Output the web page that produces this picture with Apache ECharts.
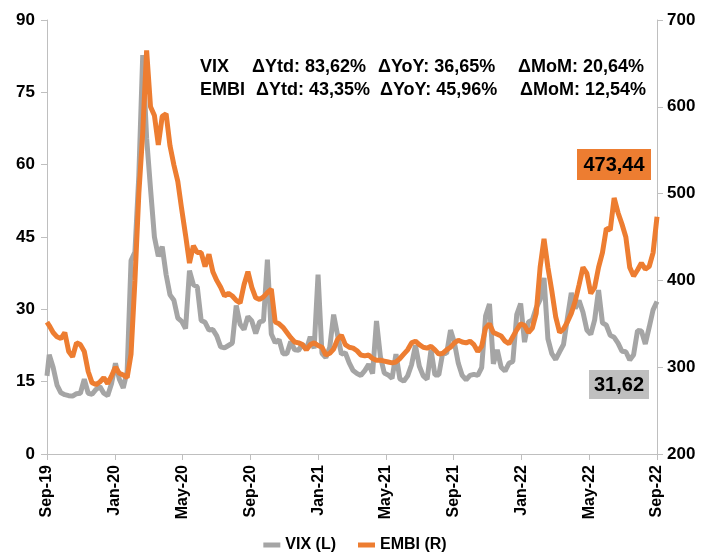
<!DOCTYPE html>
<html>
<head>
<meta charset="utf-8">
<script src="https://cdn.jsdelivr.net/npm/echarts@6/dist/echarts.min.js"></script>
<style>
html,body{margin:0;padding:0;background:#fff;}
#chart{width:710px;height:553px;}
</style>
</head>
<body>
<div id="chart"></div>
<script>
// x tick labels (every 4 months, Sep-19 .. Sep-22)
const xTickLabels = ['Sep-19','Jan-20','May-20','Sep-20','Jan-21','May-21','Sep-21','Jan-22','May-22','Sep-22'];
// weekly observations from 30-Sep-2019 to 30-Sep-2022
const totalDays = 1096;
const vixValues = [16.2,20.6,18.0,14.3,12.7,12.3,12.1,12.0,12.5,12.6,
15.5,12.6,12.4,13.4,14.0,12.6,12.1,14.6,18.8,15.5,
13.7,17.1,40.1,41.9,57.8,82.7,65.5,55.0,45.0,41.0,
43.0,37.2,33.0,31.9,28.2,27.5,26.0,38.0,35.1,34.7,
27.7,27.3,25.7,25.8,24.5,22.2,22.0,22.5,23.0,30.8,
26.9,25.8,28.5,27.6,25.0,27.4,27.6,40.3,24.9,23.1,
23.7,20.8,20.8,23.3,21.6,21.5,22.8,21.6,24.3,21.9,
37.2,20.9,20.0,22.1,28.9,24.7,20.7,21.0,18.9,17.3,
16.7,16.3,17.3,18.6,16.7,27.6,20.2,16.8,16.4,15.7,
20.7,15.6,15.1,16.2,18.5,22.5,18.2,16.2,15.5,21.6,
16.4,16.4,21.0,20.8,25.7,23.1,18.8,16.3,15.4,16.3,
16.5,16.3,17.9,28.6,31.1,18.7,21.6,18.0,17.2,18.8,
19.2,28.9,31.2,23.2,27.4,27.8,30.3,32.0,36.5,23.9,
20.8,19.6,21.2,22.7,28.2,33.4,30.2,31.8,29.4,25.7,
24.8,27.8,34.0,27.2,26.7,24.6,24.2,23.0,21.3,21.2,
19.5,20.6,25.6,25.5,22.8,26.3,29.9,31.62];
const embiValues = [352,348,340,335,333,340,318,312,328,326,
318,295,282,280,283,288,281,290,300,293,
291,288,315,400,500,570,665,600,590,556,
589,592,555,533,514,482,452,420,440,432,
432,416,430,410,400,392,382,385,382,377,
374,395,410,392,380,378,381,386,390,352,
350,346,340,334,329,328,326,320,326,328,
325,323,314,316,321,332,337,326,323,322,
319,314,313,314,310,308,308,307,306,305,
306,310,315,320,328,330,326,323,322,324,
320,315,316,320,323,328,331,329,328,330,
326,318,324,345,350,340,338,336,330,327,
335,343,350,348,340,345,362,415,448,415,
388,358,340,344,352,362,376,395,415,408,
385,392,415,432,460,458,495,478,465,450,
415,405,412,420,413,416,432,473.44];
const vixStats = ['VIX', 'ΔYtd: 83,62%', 'ΔYoY: 36,65%', 'ΔMoM: 20,64%'];
const embiStats = ['EMBI', 'ΔYtd: 43,35%', 'ΔYoY: 45,96%', 'ΔMoM: 12,54%'];
const lastVix = '31,62';
const lastEmbi = '473,44';

function monthPos(i){
  const day = i === 0 ? 0 : 4 + 7*(i-1);
  return day * 36 / totalDays;
}
const vixData = vixValues.map((v,i)=>[monthPos(i), v]);
const embiData = embiValues.map((v,i)=>[monthPos(i), v]);

const FONT = 'Liberation Sans, Arial, sans-serif';
const axisCol = '#BFBFBF';

const chart = echarts.init(document.getElementById('chart'), null, {renderer:'canvas'});

function statRow(arr, y, xs){
  return arr.map((t,k)=>({
    type:'text', left: xs[k], top: y,
    style:{text:t, font:'bold 18px '+FONT, fill:'#000'}
  }));
}

chart.setOption({
  animation:false,
  backgroundColor:'#fff',
  grid:{left:47, right:53, top:20, bottom:99},
  legend:{
    top:532, left:'center', itemGap:22, itemWidth:17, itemHeight:5,
    icon:'rect',
    textStyle:{fontFamily:FONT, fontWeight:'bold', fontSize:16, color:'#000'},
    data:['VIX (L)','EMBI (R)']
  },
  xAxis:{
    type:'value', min:0, max:36, interval:4,
    axisLine:{show:true, lineStyle:{color:axisCol, width:1}},
    axisTick:{show:true, length:6, lineStyle:{color:axisCol}},
    splitLine:{show:false},
    axisLabel:{
      rotate:90, margin:11,
      fontFamily:FONT, fontWeight:'bold', fontSize:16, color:'#000',
      formatter:(v)=> xTickLabels[Math.round(v/4)] || ''
    }
  },
  yAxis:[
    {type:'value', min:0, max:90, interval:15, position:'left',
     axisLine:{show:true, lineStyle:{color:axisCol}},
     axisTick:{show:true, length:6, lineStyle:{color:axisCol}},
     splitLine:{show:false},
     axisLabel:{margin:12, fontFamily:FONT, fontWeight:'bold', fontSize:17, color:'#000'}},
    {type:'value', min:200, max:700, interval:100, position:'right',
     axisLine:{show:true, lineStyle:{color:axisCol}},
     axisTick:{show:true, length:6, lineStyle:{color:axisCol}},
     splitLine:{show:false},
     axisLabel:{margin:10, fontFamily:FONT, fontWeight:'bold', fontSize:17, color:'#000'}}
  ],
  series:[
    {name:'VIX (L)', type:'line', yAxisIndex:0, data:vixData, showSymbol:false,
     lineStyle:{color:'#A5A5A5', width:5}, itemStyle:{color:'#A5A5A5'}, z:2},
    {name:'EMBI (R)', type:'line', yAxisIndex:1, data:embiData, showSymbol:false,
     lineStyle:{color:'#ED7D31', width:5}, itemStyle:{color:'#ED7D31'}, z:3}
  ],
  graphic:[
    ...statRow(vixStats, 58, [200,252,378,518]),
    ...statRow(embiStats, 81, [200,256,380,520]),
    {type:'rect', shape:{x:577, y:149, width:74, height:31}, style:{fill:'#ED7D31'}, z:10},
    {type:'text', x:614, y:165, z:11, style:{text:lastEmbi, font:'bold 20px '+FONT, fill:'#000', textAlign:'center', textVerticalAlign:'middle'}},
    {type:'rect', shape:{x:589, y:370, width:60, height:29}, style:{fill:'#BFBFBF'}, z:10},
    {type:'text', x:619, y:385, z:11, style:{text:lastVix, font:'bold 20px '+FONT, fill:'#000', textAlign:'center', textVerticalAlign:'middle'}}
  ]
});
</script>
</body>
</html>
